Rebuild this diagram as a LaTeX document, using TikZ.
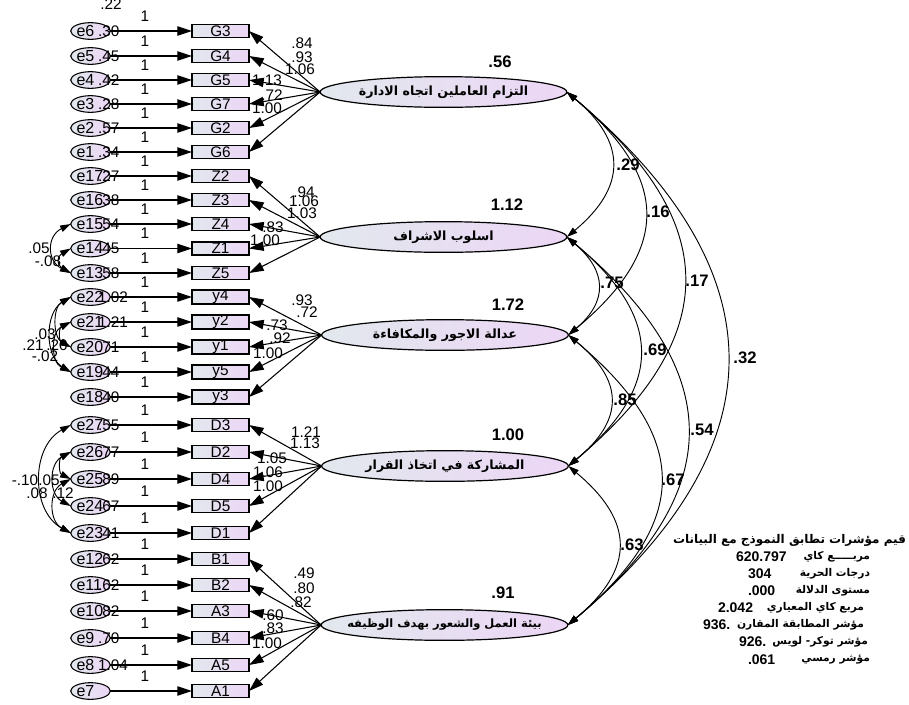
\documentclass[tikz,border=0pt]{standalone}
\usepackage{fontspec}
\setmainfont{Liberation Sans}
\newfontfamily\arabicfont[Script=Arabic]{DejaVu Sans}
\TeXXeTstate=1
\usetikzlibrary{arrows.meta,shapes.geometric}
\definecolor{shL}{RGB}{226,232,238}
\definecolor{shR}{RGB}{236,214,245}
\begin{document}
\begin{tikzpicture}[x=0.75pt,y=-0.75pt,
 every node/.style={inner sep=0pt,outer sep=0pt},
 ind/.style={draw,line width=1pt,left color=shL,right color=shR,minimum width=42.75pt,minimum height=9.75pt,font=\fontsize{11.5}{10}\selectfont},
 err/.style={ellipse,draw,line width=0.8pt,left color=shL,right color=shR,minimum width=29pt,minimum height=12.5pt,font=\fontsize{12}{10}\selectfont},
 lat/.style={ellipse,draw,line width=0.9pt,left color=shL,right color=shR,minimum width=185pt,minimum height=23pt},
 latlab/.style={font=\arabicfont\bfseries\fontsize{9.5}{9}\selectfont},
 arr/.style={line width=0.8pt,-{Triangle[length=11pt,width=7pt]}},
 darr/.style={line width=0.7pt,{Triangle[length=8pt,width=5pt]}-{Triangle[length=8pt,width=5pt]}},
 sm/.style={font=\fontsize{11.5}{10}\selectfont},
 bnum/.style={font=\bfseries\fontsize{12.5}{12}\selectfont},
 fit/.style={font=\arabicfont\bfseries\fontsize{8}{10}\selectfont,anchor=east},
 fitn/.style={font=\bfseries\fontsize{10.5}{11}\selectfont,anchor=west},
]
\useasboundingbox (0,0) rectangle (909,704);
% indicators and errors
\foreach \n/\yy/\ee/\vv in {G3/31/e6/.30,G4/56/e5/.45,G5/80/e4/.42,G7/104/e3/.28,G2/128/e2/.57,G6/152/e1/.34,
  Z2/176/e17/.27,Z3/200/e16/.38,Z4/224/e15/.54,Z1/248.5/e14/.45,Z5/273/e13/.58,
  y4/297/e22/1.02,y2/322/e21/1.21,y1/347/e20/.71,y5/372/e19/.44,y3/397/e18/.40,
  D3/425/e27/.55,D2/452/e26/.77,D4/479/e25/.89,D5/506/e24/.67,D1/533/e23/.41,
  B1/559/e12/.62,B2/585/e11/.62,A3/611/e10/.82,B4/638/e9/.70,A5/665/e8/1.04,A1/691/e7/{}}{
  \node[ind] (\n) at (220.5,\yy) {\n};
  \node[err] (\ee) at (90.5,\yy) {\makebox[21pt][l]{\ee}};
  \draw[arr] (\ee) -- (\n);
  \node[sm] (one\n) at (145,\yy-15) {1};
  \node[sm,anchor=west] (var\n) at (98,\yy) {\vv};
}
\node[sm] (topv) at (111,4) {.22};
% latent variables
\node[lat] (F1) at (443.5,92) {};
\node[lat] (F2) at (443.5,237) {};
\node[lat] (F3) at (445,335) {};
\node[lat] (F4) at (445,466) {};
\node[lat] (F5) at (444.5,625) {};
\node[latlab] (F1t) at (F1) {\beginR التزام العاملين اتجاه الادارة\endR};
\node[latlab] (F2t) at (F2) {\beginR اسلوب الاشراف\endR};
\node[latlab] (F3t) at (F3) {\beginR عدالة الاجور والمكافاءة\endR};
\node[latlab] (F4t) at (F4) {\beginR المشاركة في اتخاذ القرار\endR};
\node[latlab,font=\arabicfont\bfseries\fontsize{8.6}{9}\selectfont] (F5t) at (F5) {\beginR بيئة العمل والشعور بهدف الوظيفه\endR};
\node[bnum] (v1) at (500,62) {.56};
\node[bnum] (v2) at (507,205) {1.12};
\node[bnum] (v3) at (508,305) {1.72};
\node[bnum] (v4) at (508,435) {1.00};
\node[bnum] (v5) at (503,593) {.91};
% loadings
\foreach \n in {G3,G4,G5,G7,G2,G6}{\draw[arr] (F1.west) -- (\n.east);}
\foreach \n in {Z2,Z3,Z4,Z1,Z5}{\draw[arr] (F2.west) -- (\n.east);}
\foreach \n in {y4,y2,y1,y5,y3}{\draw[arr] (F3.west) -- (\n.east);}
\foreach \n in {D3,D2,D4,D5,D1}{\draw[arr] (F4.west) -- (\n.east);}
\foreach \n in {B1,B2,A3,B4,A5,A1}{\draw[arr] (F5.west) -- (\n.east);}
\foreach \t/\xx/\yy [count=\i] in {.84/302/43,.93/302/57,1.06/300/69,1.13/267/80,.72/272/95,1.00/267/108,
  .94/304/192,1.06/304/201,1.03/302/213,.83/273/227,1.00/265/240,
  .93/302/300,.72/307/312,.73/277/325,.92/280/338,1.00/268/353,
  1.21/306/432,1.13/305/443,1.05/272/458,1.06/268/472,1.00/268/486,
  .49/304/573,.80/304/588,.82/301/602,.60/273/615,.83/273/628,1.00/267/643}{
  \node[sm] (ld\i) at (\xx,\yy) {\t};
}
% correlations among factors
\draw[darr] (F1.east) .. controls +(60,50) and +(60,-50) .. (F2.east);
\draw[darr] (F1.east) .. controls +(103,86) and +(103,-86) .. (F3.east);
\draw[darr] (F1.east) .. controls +(155,130) and +(155,-130) .. (F4.east);
\draw[darr] (F1.east) .. controls +(213,179) and +(213,-179) .. (F5.east);
\draw[darr] (F2.east) .. controls +(40,34) and +(40,-34) .. (F3.east);
\draw[darr] (F2.east) .. controls +(96,80) and +(96,-80) .. (F4.east);
\draw[darr] (F2.east) .. controls +(160,134) and +(160,-134) .. (F5.east);
\draw[darr] (F3.east) .. controls +(56,46) and +(56,-46) .. (F4.east);
\draw[darr] (F3.east) .. controls +(123,103) and +(123,-103) .. (F5.east);
\draw[darr] (F4.east) .. controls +(67,56) and +(67,-56) .. (F5.east);
\node[bnum] (c12) at (628,165) {.29};
\node[bnum] (c13) at (658,212) {.16};
\node[bnum] (c14) at (697,281) {.17};
\node[bnum] (c15) at (745,358) {.32};
\node[bnum] (c23) at (612,283) {.75};
\node[bnum] (c24) at (655,350) {.69};
\node[bnum] (c25) at (702,430) {.54};
\node[bnum] (c34) at (625,400) {.85};
\node[bnum] (c35) at (673,480) {.67};
\node[bnum] (c45) at (632,545) {.63};
% error covariances
\draw[darr] (e15.west) .. controls +(-24,12) and +(-24,-12) .. (e13.west);
\draw[darr] (e14.west) .. controls +(-14,8) and +(-14,-8) .. (e13.west);
\node[sm] (k1) at (39,248) {.05};
\node[sm] (k2) at (48,261) {-.08};
\draw[darr] (e22.west) .. controls +(-26,16) and +(-26,-16) .. (e19.west);
\draw[darr] (e22.west) .. controls +(-18,10) and +(-18,-10) .. (e20.west);
\draw[darr] (e21.west) .. controls +(-20,10) and +(-20,-10) .. (e19.west);
\draw[darr] (e21.west) .. controls +(-12,6) and +(-12,-6) .. (e20.west);
\node[sm] (k3) at (45,334) {.03};
\node[sm] (k4) at (33,345) {.21};
\node[sm] (k5) at (57,345) {.20};
\node[sm] (k6) at (45,356) {-.02};
\draw[darr] (e27.west) .. controls +(-40,22) and +(-40,-22) .. (e23.west);
\draw[darr] (e26.west) .. controls +(-22,12) and +(-22,-12) .. (e24.west);
\draw[darr] (e25.west) .. controls +(-22,12) and +(-22,-12) .. (e23.west);
\draw[darr] (e26.west) .. controls +(-12,6) and +(-12,-6) .. (e25.west);
\node[sm] (k7) at (25,480) {-.10};
\node[sm] (k8) at (49,480) {.05};
\node[sm] (k9) at (37,493) {.08};
\node[sm] (k10) at (63,493) {.12};
% fit indices
\node[fit,font=\arabicfont\bfseries\fontsize{9}{10}\selectfont] (f1) at (906,540) {\beginR قيم مؤشرات تطابق النموذج مع البيانات\endR};
\node[fit] (f2) at (870,557) {\beginR مربـــــع كاي\endR};
\node[fitn] (n2) at (736,557) {620.797};
\node[fit] (f3) at (870,574) {\beginR درجات الحرية\endR};
\node[fitn] (n3) at (748,574) {304};
\node[fit] (f4) at (870,591) {\beginR مستوى الدلالة\endR};
\node[fitn] (n4) at (748,591) {.000};
\node[fit] (f5) at (864,608) {\beginR مربع كاي المعياري\endR};
\node[fitn] (n5) at (718,608) {2.042};
\node[fit] (f6) at (864,625) {\beginR مؤشر المطابقة المقارن\endR};
\node[fitn] (n6) at (703,625) {936.};
\node[fit] (f7) at (868,642) {\beginR مؤشر توكر- لويس\endR};
\node[fitn] (n7) at (739,642) {926.};
\node[fit] (f8) at (870,660) {\beginR مؤشر رمسي\endR};
\node[fitn] (n8) at (748,660) {.061};
\end{tikzpicture}
\end{document}
